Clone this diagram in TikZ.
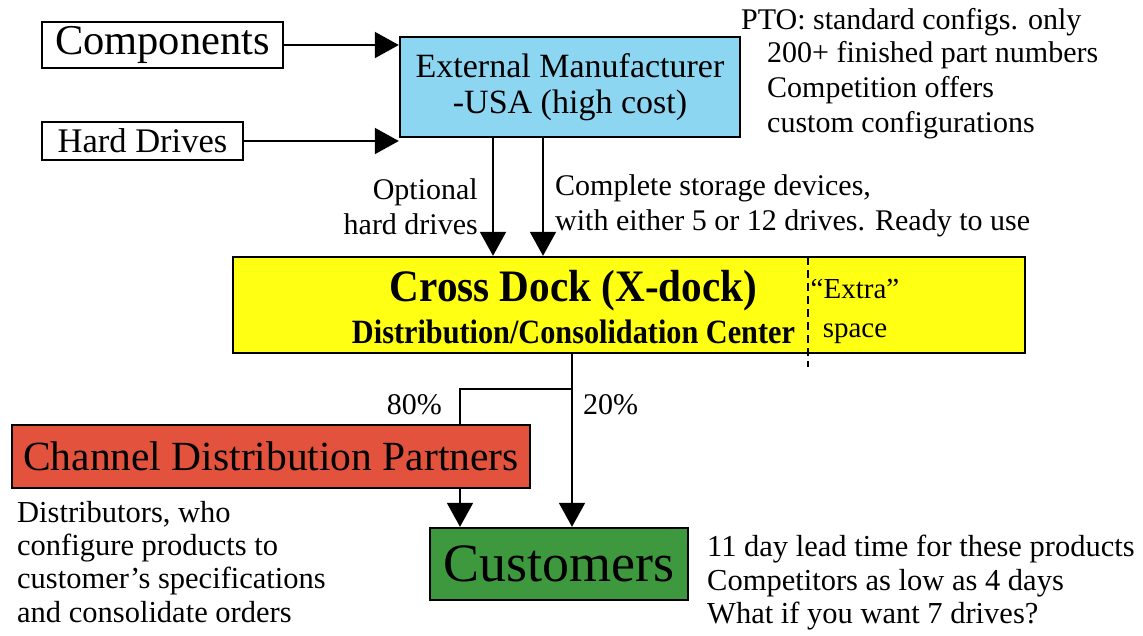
\documentclass[tikz,border=0pt]{standalone}
\usepackage{fontspec}
\setmainfont{Liberation Serif}
\usetikzlibrary{arrows.meta}
\definecolor{embl}{RGB}{140,214,242}
\definecolor{cdyel}{RGB}{255,255,20}
\definecolor{chred}{RGB}{226,82,60}
\definecolor{cugrn}{RGB}{62,152,62}
\newcommand{\fs}[2]{\fontsize{#1}{#2}\selectfont}
\tikzset{
  box/.style={draw=black, line width=2.4pt, rectangle, inner sep=0pt},
  arr/.style={line width=2pt, -{Triangle[length=24pt,width=26pt]}},
  ln/.style={line width=2pt},
  lbl/.style={inner sep=0pt, font=\fs{30}{35}},
}
\begin{document}
\begin{tikzpicture}[x=1pt,y=-1pt]
\useasboundingbox (0,0) rectangle (1143,635);
% boxes
\node[box, minimum width=241pt, minimum height=46pt, font=\fs{42.5}{44}] (comp) at (162.5,45) {\raisebox{-4pt}{Components}};
\node[box, minimum width=201pt, minimum height=38pt, font=\fs{34.5}{38}] (hd) at (142.5,141) {\raisebox{-3pt}{Hard Drives}};
\node[box, fill=embl, minimum width=340pt, minimum height=100pt, align=center, font=\fs{34}{36}] (em) at (570,87) {External Manufacturer\\-USA (high cost)};
\node[box, fill=cdyel, minimum width=792pt, minimum height=96pt] (cd) at (629,305) {};
\node[inner sep=0pt, font=\bfseries\fs{45}{46}] (cdt) at (573.5,291) {\scalebox{0.915}[1]{Cross Dock (X-dock)}};
\node[inner sep=0pt, font=\bfseries\fs{34}{36}] (cds) at (573.5,332) {\scalebox{0.89}[1]{Distribution/Consolidation Center}};
\node[lbl, align=center, font=\fs{29}{39}] (extra) at (855,311) {“Extra”\\space};
\node[box, fill=chred, minimum width=518pt, minimum height=63pt, font=\fs{41.5}{44}] (ch) at (271,456.5) {Channel Distribution Partners};
\node[box, fill=cugrn, minimum width=258pt, minimum height=72pt, font=\fs{54}{56}] (cu) at (559,564) {\raisebox{-2pt}{Customers}};
% dashed divider
\coordinate (dtop) at (808,257);
\coordinate (dbot) at (808,367);
\draw[line width=2pt, dash pattern=on 8pt off 5pt] (dtop) -- (dbot);
% arrows
\draw[arr] (comp.east) -- (comp.east -| em.west);
\draw[arr] (hd.east) -- (hd.east -| em.west);
\draw[arr] ([xshift=-77pt]em.south) -- ([xshift=-77pt]em.south |- cd.north);
\draw[arr] ([xshift=-27pt]em.south) -- ([xshift=-27pt]em.south |- cd.north);
\coordinate (br) at (572,389);
\coordinate (bl) at (460,389);
\draw[arr] (cd.south -| br) -- (cu.north -| br);
\draw[ln] (br) -- (bl) -- (bl |- ch.north);
\draw[arr] (ch.south -| bl) -- (cu.north -| bl);
% labels
\node[lbl, align=right, anchor=east] (opt) at (478,207) {Optional\\hard drives};
\node[lbl, align=left, anchor=west] (cmp) at (555,206) {Complete storage devices,\\with either 5 or 12 drives. Ready to use};
\node[lbl, anchor=west] (pto1) at (741,22) {PTO: standard configs. only};
\node[lbl, align=left, anchor=north west] (pto2) at (767,41) {200+ finished part numbers\\Competition offers\\custom configurations};
\node[lbl, anchor=east] (p80) at (442,405) {80\%};
\node[lbl, anchor=west] (p20) at (583,405) {20\%};
\node[lbl, align=left, anchor=north west, font=\fs{30.5}{33.3}] (dist) at (17,501) {Distributors, who\\configure products to\\customer’s specifications\\and consolidate orders};
\node[lbl, align=left, anchor=west, font=\fs{30.5}{33.5}] (lead) at (707,583) {11 day lead time for these products\\Competitors as low as 4 days\\What if you want 7 drives?};
\end{tikzpicture}
\end{document}
